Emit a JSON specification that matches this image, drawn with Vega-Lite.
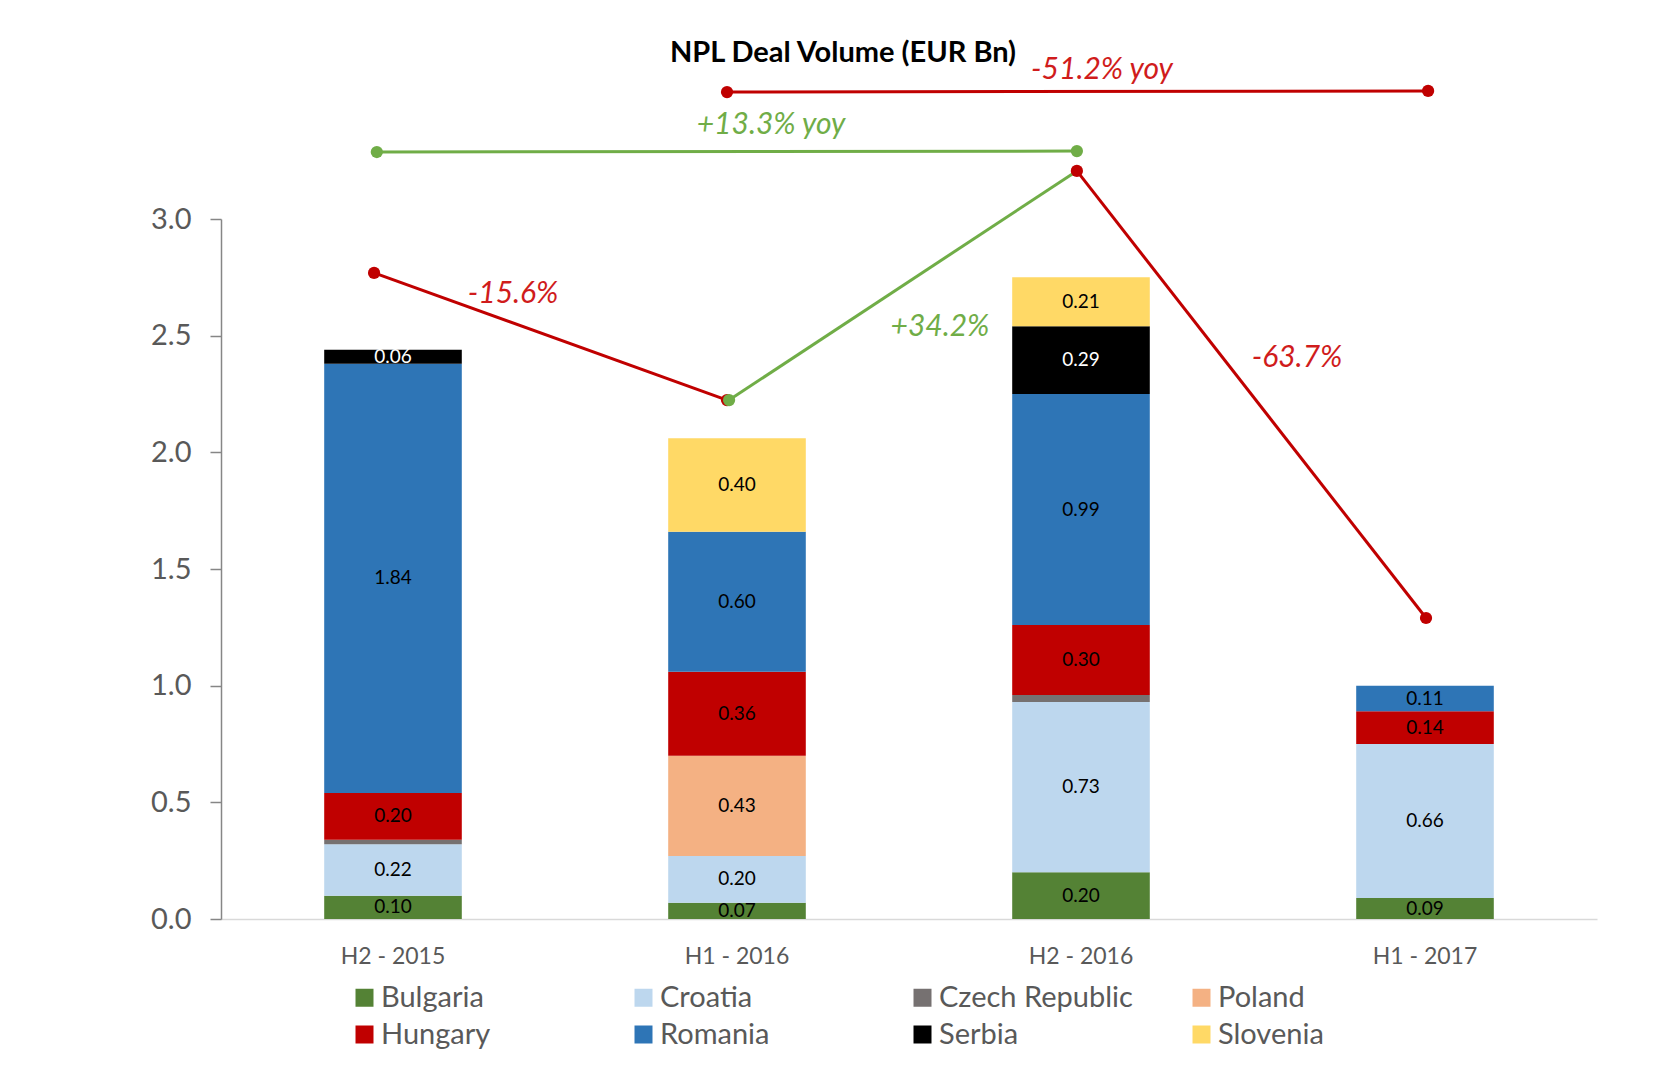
{
  "$schema": "https://vega.github.io/schema/vega-lite/v6.json",
  "autosize": {"type": "none"},
  "padding": {"left": 221, "top": 219, "right": 56, "bottom": 172},
  "width": 1376,
  "height": 700,
  "background": "white",
  "title": {
    "text": "NPL Deal Volume (EUR Bn)",
    "font": "Lato",
    "fontSize": 29,
    "fontWeight": "bold",
    "color": "#000000",
    "anchor": "middle",
    "frame": "group",
    "dx": -66,
    "dy": 13,
    "offset": 0
  },
  "datasets": {
    "bars": [
      {"period": "H2 - 2015", "country": "Bulgaria", "ord": 1, "value": 0.10},
      {"period": "H2 - 2015", "country": "Croatia", "ord": 2, "value": 0.22},
      {"period": "H2 - 2015", "country": "Czech Republic", "ord": 3, "value": 0.02},
      {"period": "H2 - 2015", "country": "Hungary", "ord": 5, "value": 0.20},
      {"period": "H2 - 2015", "country": "Romania", "ord": 6, "value": 1.84},
      {"period": "H2 - 2015", "country": "Serbia", "ord": 7, "value": 0.06},
      {"period": "H1 - 2016", "country": "Bulgaria", "ord": 1, "value": 0.07},
      {"period": "H1 - 2016", "country": "Croatia", "ord": 2, "value": 0.20},
      {"period": "H1 - 2016", "country": "Poland", "ord": 4, "value": 0.43},
      {"period": "H1 - 2016", "country": "Hungary", "ord": 5, "value": 0.36},
      {"period": "H1 - 2016", "country": "Romania", "ord": 6, "value": 0.60},
      {"period": "H1 - 2016", "country": "Slovenia", "ord": 8, "value": 0.40},
      {"period": "H2 - 2016", "country": "Bulgaria", "ord": 1, "value": 0.20},
      {"period": "H2 - 2016", "country": "Croatia", "ord": 2, "value": 0.73},
      {"period": "H2 - 2016", "country": "Czech Republic", "ord": 3, "value": 0.03},
      {"period": "H2 - 2016", "country": "Hungary", "ord": 5, "value": 0.30},
      {"period": "H2 - 2016", "country": "Romania", "ord": 6, "value": 0.99},
      {"period": "H2 - 2016", "country": "Serbia", "ord": 7, "value": 0.29},
      {"period": "H2 - 2016", "country": "Slovenia", "ord": 8, "value": 0.21},
      {"period": "H1 - 2017", "country": "Bulgaria", "ord": 1, "value": 0.09},
      {"period": "H1 - 2017", "country": "Croatia", "ord": 2, "value": 0.66},
      {"period": "H1 - 2017", "country": "Hungary", "ord": 5, "value": 0.14},
      {"period": "H1 - 2017", "country": "Romania", "ord": 6, "value": 0.11}
    ],
    "lines": [
      {"series": "redA", "seq": 1, "u": -0.055, "v": 2.769},
      {"series": "redA", "seq": 2, "u": 0.971, "v": 2.224},
      {"series": "redB", "seq": 1, "u": 1.988, "v": 3.206},
      {"series": "redB", "seq": 2, "u": 3.003, "v": 1.290},
      {"series": "redTop", "seq": 1, "u": 0.971, "v": 3.544},
      {"series": "redTop", "seq": 2, "u": 3.009, "v": 3.549},
      {"series": "greenDiag", "seq": 1, "u": 0.977, "v": 2.224},
      {"series": "greenDiag", "seq": 2, "u": 1.988, "v": 3.206},
      {"series": "greenTop", "seq": 1, "u": -0.047, "v": 3.287},
      {"series": "greenTop", "seq": 2, "u": 1.988, "v": 3.291}
    ],
    "notes": [
      {"label": "-51.2% yoy", "direction": "down", "u": 2.061, "v": 3.64},
      {"label": "+13.3% yoy", "direction": "up", "u": 1.099, "v": 3.405},
      {"label": "-15.6%", "direction": "down", "u": 0.349, "v": 2.679},
      {"label": "+34.2%", "direction": "up", "u": 1.590, "v": 2.537},
      {"label": "-63.7%", "direction": "down", "u": 2.628, "v": 2.404}
    ]
  },
  "resolve": {"scale": {"x": "independent"}, "axis": {"x": "independent"}},
  "layer": [
    {
      "layer": [
        {
          "data": {"name": "bars"},
          "mark": {"type": "bar", "clip": false},
          "encoding": {
            "x": {
              "field": "period",
              "type": "nominal",
              "sort": ["H2 - 2015", "H1 - 2016", "H2 - 2016", "H1 - 2017"],
              "scale": {"paddingInner": 0.6, "paddingOuter": 0.3},
              "axis": {
                "title": null,
                "labelAngle": 0,
                "ticks": false,
                "domainColor": "#d9d9d9",
                "domainWidth": 1.5,
                "labelFont": "Lato",
                "labelFontSize": 23,
                "labelColor": "#595959",
                "labelPadding": 26
              }
            },
            "y": {
              "field": "value",
              "type": "quantitative",
              "stack": "zero",
              "scale": {"domain": [0, 3], "nice": false, "zero": true},
              "axis": {
                "title": null,
                "values": [0, 0.5, 1, 1.5, 2, 2.5, 3],
                "format": ".1f",
                "grid": false,
                "domainColor": "#868686",
                "domainWidth": 1.5,
                "tickColor": "#868686",
                "tickWidth": 1.5,
                "tickSize": 11,
                "labelFont": "Lato",
                "labelFontSize": 29,
                "labelColor": "#595959",
                "labelPadding": 19
              }
            },
            "color": {
              "field": "country",
              "type": "nominal",
              "scale": {
                "domain": ["Bulgaria", "Croatia", "Czech Republic", "Poland", "Hungary", "Romania", "Serbia", "Slovenia"],
                "range": ["#548235", "#bdd7ee", "#767171", "#f4b183", "#c00000", "#2e75b6", "#000000", "#ffd966"]
              },
              "legend": {
                "orient": "none",
                "legendX": 129,
                "legendY": 764,
                "columns": 4,
                "direction": "horizontal",
                "title": null
              }
            },
            "order": {"field": "ord", "type": "quantitative"}
          }
        },
        {
          "data": {"name": "bars"},
          "transform": [
            {"stack": "value", "groupby": ["period"], "sort": [{"field": "ord"}], "as": ["v0", "v1"]},
            {"filter": "datum.value >= 0.05"},
            {"fold": ["v0", "v1"], "as": ["edge", "pos"]},
            {"aggregate": [{"op": "mean", "field": "pos", "as": "mid"}], "groupby": ["period", "country", "value"]}
          ],
          "mark": {"type": "text", "font": "Lato", "fontSize": 19, "baseline": "middle", "align": "center", "clip": false},
          "encoding": {
            "x": {"field": "period", "type": "nominal", "sort": ["H2 - 2015", "H1 - 2016", "H2 - 2016", "H1 - 2017"]},
            "y": {"field": "mid", "type": "quantitative"},
            "text": {"field": "value", "type": "quantitative", "format": ".2f"},
            "color": {"condition": {"test": "datum.country === 'Serbia'", "value": "#ffffff"}, "value": "#000000"}
          }
        }
      ]
    },
    {
      "layer": [
        {
          "data": {"name": "lines"},
          "transform": [{"filter": "indexof(datum.series, 'red') === 0"}],
          "mark": {"type": "line", "color": "#c00000", "strokeWidth": 3, "clip": false},
          "encoding": {
            "x": {"field": "u", "type": "quantitative", "scale": {"domain": [-0.5, 3.5], "nice": false, "zero": false}, "axis": null},
            "y": {"field": "v", "type": "quantitative"},
            "detail": {"field": "series", "type": "nominal"},
            "order": {"field": "seq", "type": "quantitative"}
          }
        },
        {
          "data": {"name": "lines"},
          "transform": [{"filter": "indexof(datum.series, 'green') === 0"}],
          "mark": {"type": "line", "color": "#70ad47", "strokeWidth": 3, "clip": false},
          "encoding": {
            "x": {"field": "u", "type": "quantitative", "axis": null},
            "y": {"field": "v", "type": "quantitative"},
            "detail": {"field": "series", "type": "nominal"},
            "order": {"field": "seq", "type": "quantitative"}
          }
        },
        {
          "data": {"name": "lines"},
          "transform": [{"filter": "indexof(datum.series, 'red') === 0"}],
          "mark": {"type": "point", "filled": true, "opacity": 1, "size": 150, "color": "#c00000", "clip": false},
          "encoding": {
            "x": {"field": "u", "type": "quantitative", "axis": null},
            "y": {"field": "v", "type": "quantitative"}
          }
        },
        {
          "data": {"name": "lines"},
          "transform": [{"filter": "indexof(datum.series, 'green') === 0 && !(datum.series === 'greenDiag' && datum.seq === 2)"}],
          "mark": {"type": "point", "filled": true, "opacity": 1, "size": 150, "color": "#70ad47", "clip": false},
          "encoding": {
            "x": {"field": "u", "type": "quantitative", "axis": null},
            "y": {"field": "v", "type": "quantitative"}
          }
        },
        {
          "data": {"name": "notes"},
          "mark": {"type": "text", "font": "Lato", "fontSize": 30, "fontStyle": "italic", "align": "center", "baseline": "middle", "clip": false},
          "encoding": {
            "x": {"field": "u", "type": "quantitative", "axis": null},
            "y": {"field": "v", "type": "quantitative"},
            "text": {"field": "label", "type": "nominal"},
            "color": {"condition": {"test": "datum.direction === 'up'", "value": "#70ad47"}, "value": "#d01c1c"}
          }
        }
      ]
    }
  ],
  "config": {
    "view": {"stroke": null},
    "legend": {
      "symbolType": "square",
      "symbolSize": 324,
      "symbolStrokeWidth": 0,
      "labelFont": "Lato",
      "labelFontSize": 29,
      "labelColor": "#595959",
      "labelOffset": 2,
      "labelLimit": 400,
      "columnPadding": 54,
      "rowPadding": 7,
      "gridAlign": "all",
      "padding": 0
    }
  }
}
